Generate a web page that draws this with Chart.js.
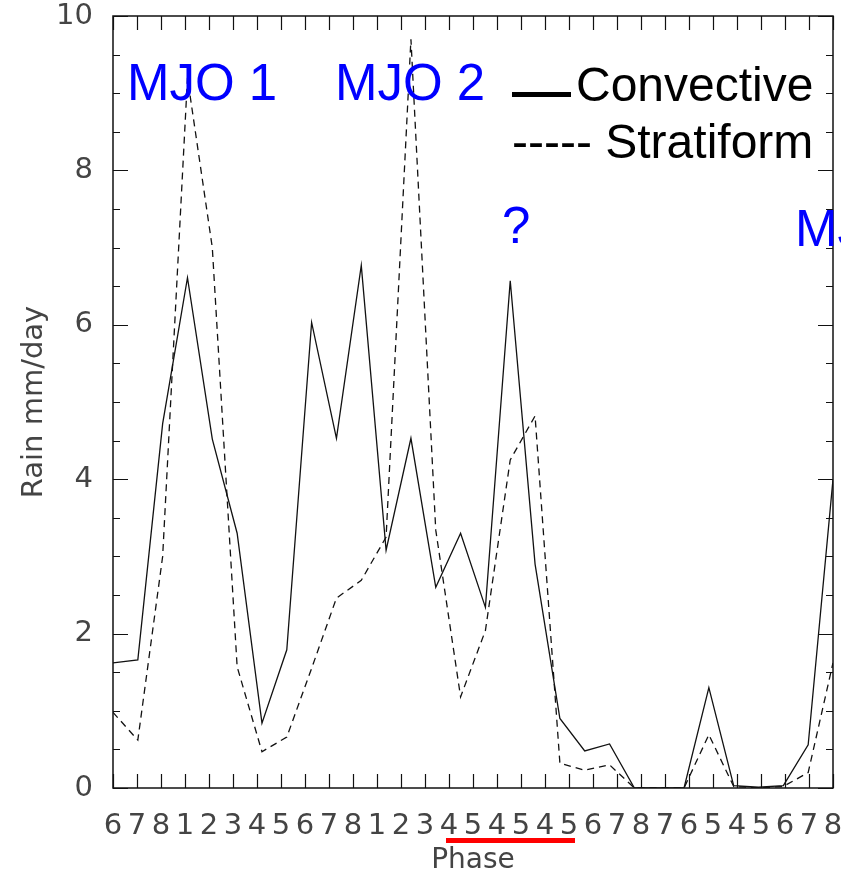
<!DOCTYPE html>
<html>
<head>
<meta charset="utf-8">
<script src="https://cdn.jsdelivr.net/npm/chart.js@4/dist/chart.umd.min.js"></script>
<style>
  body { margin: 0; background: #fff; }
  #wrap { width: 841px; height: 875px; }
</style>
</head>
<body>
<div id="wrap"><canvas id="rainChart"></canvas></div>
<script>
// MJO phase sequence shown under the axis
const phaseLabels = ['6','7','8','1','2','3','4','5','6','7','8','1','2','3',
                     '4','5','4','5','4','5','6','7','8','7','6','5','4','5','6','7','8'];

// rain rate (mm/day), one value per time step
const convective = [1.62, 1.66, 4.72, 6.61, 4.52, 3.3, 0.84, 1.79, 6.03, 4.53,
                    6.77, 3.08, 4.53, 2.6, 3.3, 2.34, 6.57, 2.9, 0.9, 0.48,
                    0.57, 0, 0, 0, 1.3, 0.03, 0.01, 0.03, 0.56, 4.0];
const stratiform = [0.98, 0.62, 3.0, 9.2, 7.0, 1.57, 0.47, 0.66, 1.55, 2.46,
                    2.69, 3.25, 9.7, 3.34, 1.18, 2.04, 4.25, 4.82, 0.32, 0.23,
                    0.3, 0, 0, 0, 0.69, 0.02, 0, 0.02, 0.2, 1.62];

const yTicks = [0, 2, 4, 6, 8, 10];

const axisFont = { family: 'DejaVu Sans', size: 29 };
const axisColor = '#444';
const noteFont = '51px "Liberation Sans", Arial, sans-serif';
const legendFont = '48px "Liberation Sans", Arial, sans-serif';

const toPoints = arr => arr.map((v, i) => ({ x: i, y: v }));

// box, inward ticks, annotations and the red underline
const framePlugin = {
    id: 'frame',
    afterDraw(chart) {
        const { ctx, chartArea: a, scales } = chart;
        const y = scales.y, p = scales.phase;
        ctx.save();
        ctx.strokeStyle = '#111';
        ctx.lineWidth = 1.5;
        ctx.strokeRect(a.left, a.top, a.right - a.left, a.bottom - a.top);

        ctx.lineWidth = 1.2;
        ctx.beginPath();
        for (let v = 0; v <= 10; v += 0.5) {
            const py = Math.round(y.getPixelForValue(v)) + 0.5;
            const len = v % 2 === 0 ? 15 : 7;
            ctx.moveTo(a.left, py); ctx.lineTo(a.left + len, py);
            ctx.moveTo(a.right, py); ctx.lineTo(a.right - len, py);
        }
        phaseLabels.forEach((_, i) => {
            const px = Math.round(p.getPixelForValue(i)) + 0.5;
            ctx.moveTo(px, a.bottom); ctx.lineTo(px, a.bottom - 14);
            ctx.moveTo(px, a.top); ctx.lineTo(px, a.top + 14);
        });
        ctx.stroke();

        // red underline under the repeated 4-5 phases
        ctx.fillStyle = '#ff0000';
        const x0 = p.getPixelForValue(14) - 3, x1 = p.getPixelForValue(19) + 6;
        ctx.fillRect(x0, 838, x1 - x0, 5);

        // annotations
        ctx.fillStyle = '#0000ff';
        ctx.font = noteFont;
        ctx.textBaseline = 'alphabetic';
        ctx.fillText('MJO 1', 127, 100);
        ctx.fillText('MJO 2', 335, 100);
        ctx.fillText('?', 502, 243);
        ctx.fillText('MJO 3', 795, 246);

        ctx.fillStyle = '#000';
        ctx.font = legendFont;
        ctx.fillText('Convective', 576, 101);
        ctx.fillText('----- Stratiform', 512, 158);
        ctx.fillRect(512, 92, 59, 5);
        ctx.restore();
    }
};

new Chart(document.getElementById('rainChart'), {
    type: 'line',
    data: {
        datasets: [
            {
                label: 'Convective',
                data: toPoints(convective),
                borderColor: '#111',
                borderWidth: 1.3,
                pointRadius: 0,
                tension: 0
            },
            {
                label: 'Stratiform',
                data: toPoints(stratiform),
                borderColor: '#111',
                borderWidth: 1.3,
                borderDash: [7, 5],
                pointRadius: 0,
                tension: 0
            }
        ]
    },
    options: {
        responsive: true,
        maintainAspectRatio: false,
        animation: false,
        devicePixelRatio: 1,
        layout: { padding: { top: 16, right: 8, left: 0, bottom: 0 } },
        plugins: { legend: { display: false }, tooltip: { enabled: false } },
        scales: {
            x: {
                type: 'linear',
                min: 0,
                max: convective.length - 1,
                display: false
            },
            phase: {
                type: 'category',
                labels: phaseLabels,
                position: 'bottom',
                offset: false,
                grid: { display: false },
                border: { display: false },
                ticks: {
                    autoSkip: false,
                    maxRotation: 0,
                    padding: 13,
                    color: axisColor,
                    font: axisFont
                },
                title: {
                    display: true,
                    text: 'Phase',
                    color: axisColor,
                    font: { family: 'DejaVu Sans', size: 28, lineHeight: 1 },
                    padding: { top: 0, bottom: 0 }
                },
                afterFit: s => { s.height = 87; s.paddingLeft = 0; s.paddingRight = 0; }
            },
            y: {
                min: 0,
                max: 10,
                afterBuildTicks: s => { s.ticks = yTicks.map(v => ({ value: v })); },
                grid: { display: false },
                border: { display: false },
                ticks: {
                    padding: 12,
                    color: axisColor,
                    font: axisFont
                },
                title: {
                    display: true,
                    text: 'Rain mm/day',
                    color: axisColor,
                    font: { family: 'DejaVu Sans', size: 29, lineHeight: 1 },
                    padding: { top: 20, bottom: 0 }
                },
                afterFit: s => { s.width = 113; s.paddingTop = 0; s.paddingBottom = 0; }
            }
        }
    },
    plugins: [framePlugin]
});
</script>
</body>
</html>
